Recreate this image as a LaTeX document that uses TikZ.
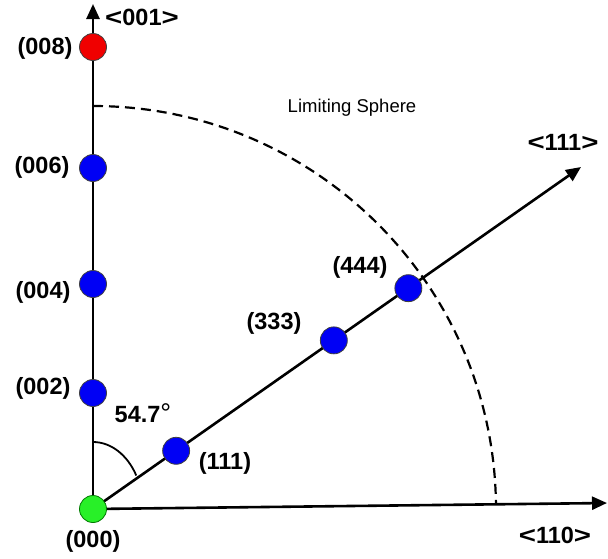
\documentclass[tikz,border=0pt]{standalone}
\usepackage{fontspec}
\setmainfont{Liberation Sans}
\usetikzlibrary{arrows.meta,calc}
\newcommand{\wlt}{\scalebox{1.25}[1]{<}}
\newcommand{\wgt}{\scalebox{1.25}[1]{>}}
\begin{document}
\begin{tikzpicture}[x=1pt,y=-1pt,
  axis/.style={line width=2.6pt,-{Triangle[length=15pt,width=13pt]}},
  spot/.style={circle,draw=black!75,line width=0.8pt,minimum size=27pt,inner sep=0pt},
  bluespot/.style={spot,fill={rgb,255:red,0;green,0;blue,245}},
  lbl/.style={font=\fontsize{23.5}{27}\selectfont\bfseries,inner sep=0pt},
  sphere/.style={line width=2.2pt,dash pattern=on 10pt off 6pt},
]
\useasboundingbox (0,0) rectangle (608,558);
% axes
\coordinate (O) at (93,509);
\coordinate (Ztip) at (93,4);
\coordinate (Xtip) at (607,503);
\coordinate (Dtip) at (581,167);
\draw[axis] (O) -- (Ztip);
\draw[axis] (O) -- (Xtip);
\draw[axis] (O) -- (Dtip);
% limiting sphere
\coordinate (S1) at (93,106);
\draw[sphere] (S1) arc[start angle=-90,end angle=-0.7,radius=403];
% angle
\coordinate (A1) at (93,442);
\draw[line width=1.8pt] (A1) arc[start angle=-90,end angle=-30,x radius=50,y radius=67];
% spots
\node[spot,fill={rgb,255:red,240;green,0;blue,0}] (p008) at (93,47) {};
\node[bluespot] (p006) at (93,168) {};
\node[bluespot] (p004) at (93,284) {};
\node[bluespot] (p002) at (93,393) {};
\node[bluespot] (p111) at ($(O)+(-35:101.5)$) {};
\node[bluespot] (p333) at ($(O)+(-35:294)$) {};
\node[bluespot] (p444) at ($(O)+(-35:385)$) {};
\node[spot,draw={rgb,255:red,0;green,120;blue,0},fill={rgb,255:red,40;green,240;blue,40}] (p000) at (O) {};
% labels
\node[lbl] (l001) at (142,17) {\wlt001\wgt};
\node[lbl] (l008) at (45,48) {(008)};
\node[lbl] (l006) at (42,167) {(006)};
\node[lbl] (l004) at (43,292) {(004)};
\node[lbl] (l002) at (43,388) {(002)};
\node[lbl] (l000) at (93,541) {(000)};
\node[lbl] (l111) at (225,463) {(111)};
\node[lbl] (l333) at (274,323) {(333)};
\node[lbl] (l444) at (360,267) {(444)};
\node[lbl] (lang) at (143,413) {54.7{\fontsize{27}{27}\selectfont\mdseries°}};
\node[font=\fontsize{18.5}{22}\selectfont,inner sep=0pt] (lls) at (352,108) {Limiting Sphere};
\node[lbl] (d111) at (563,142) {\wlt111\wgt};
\node[lbl] (d110) at (555,535) {\wlt110\wgt};
\end{tikzpicture}
\end{document}
